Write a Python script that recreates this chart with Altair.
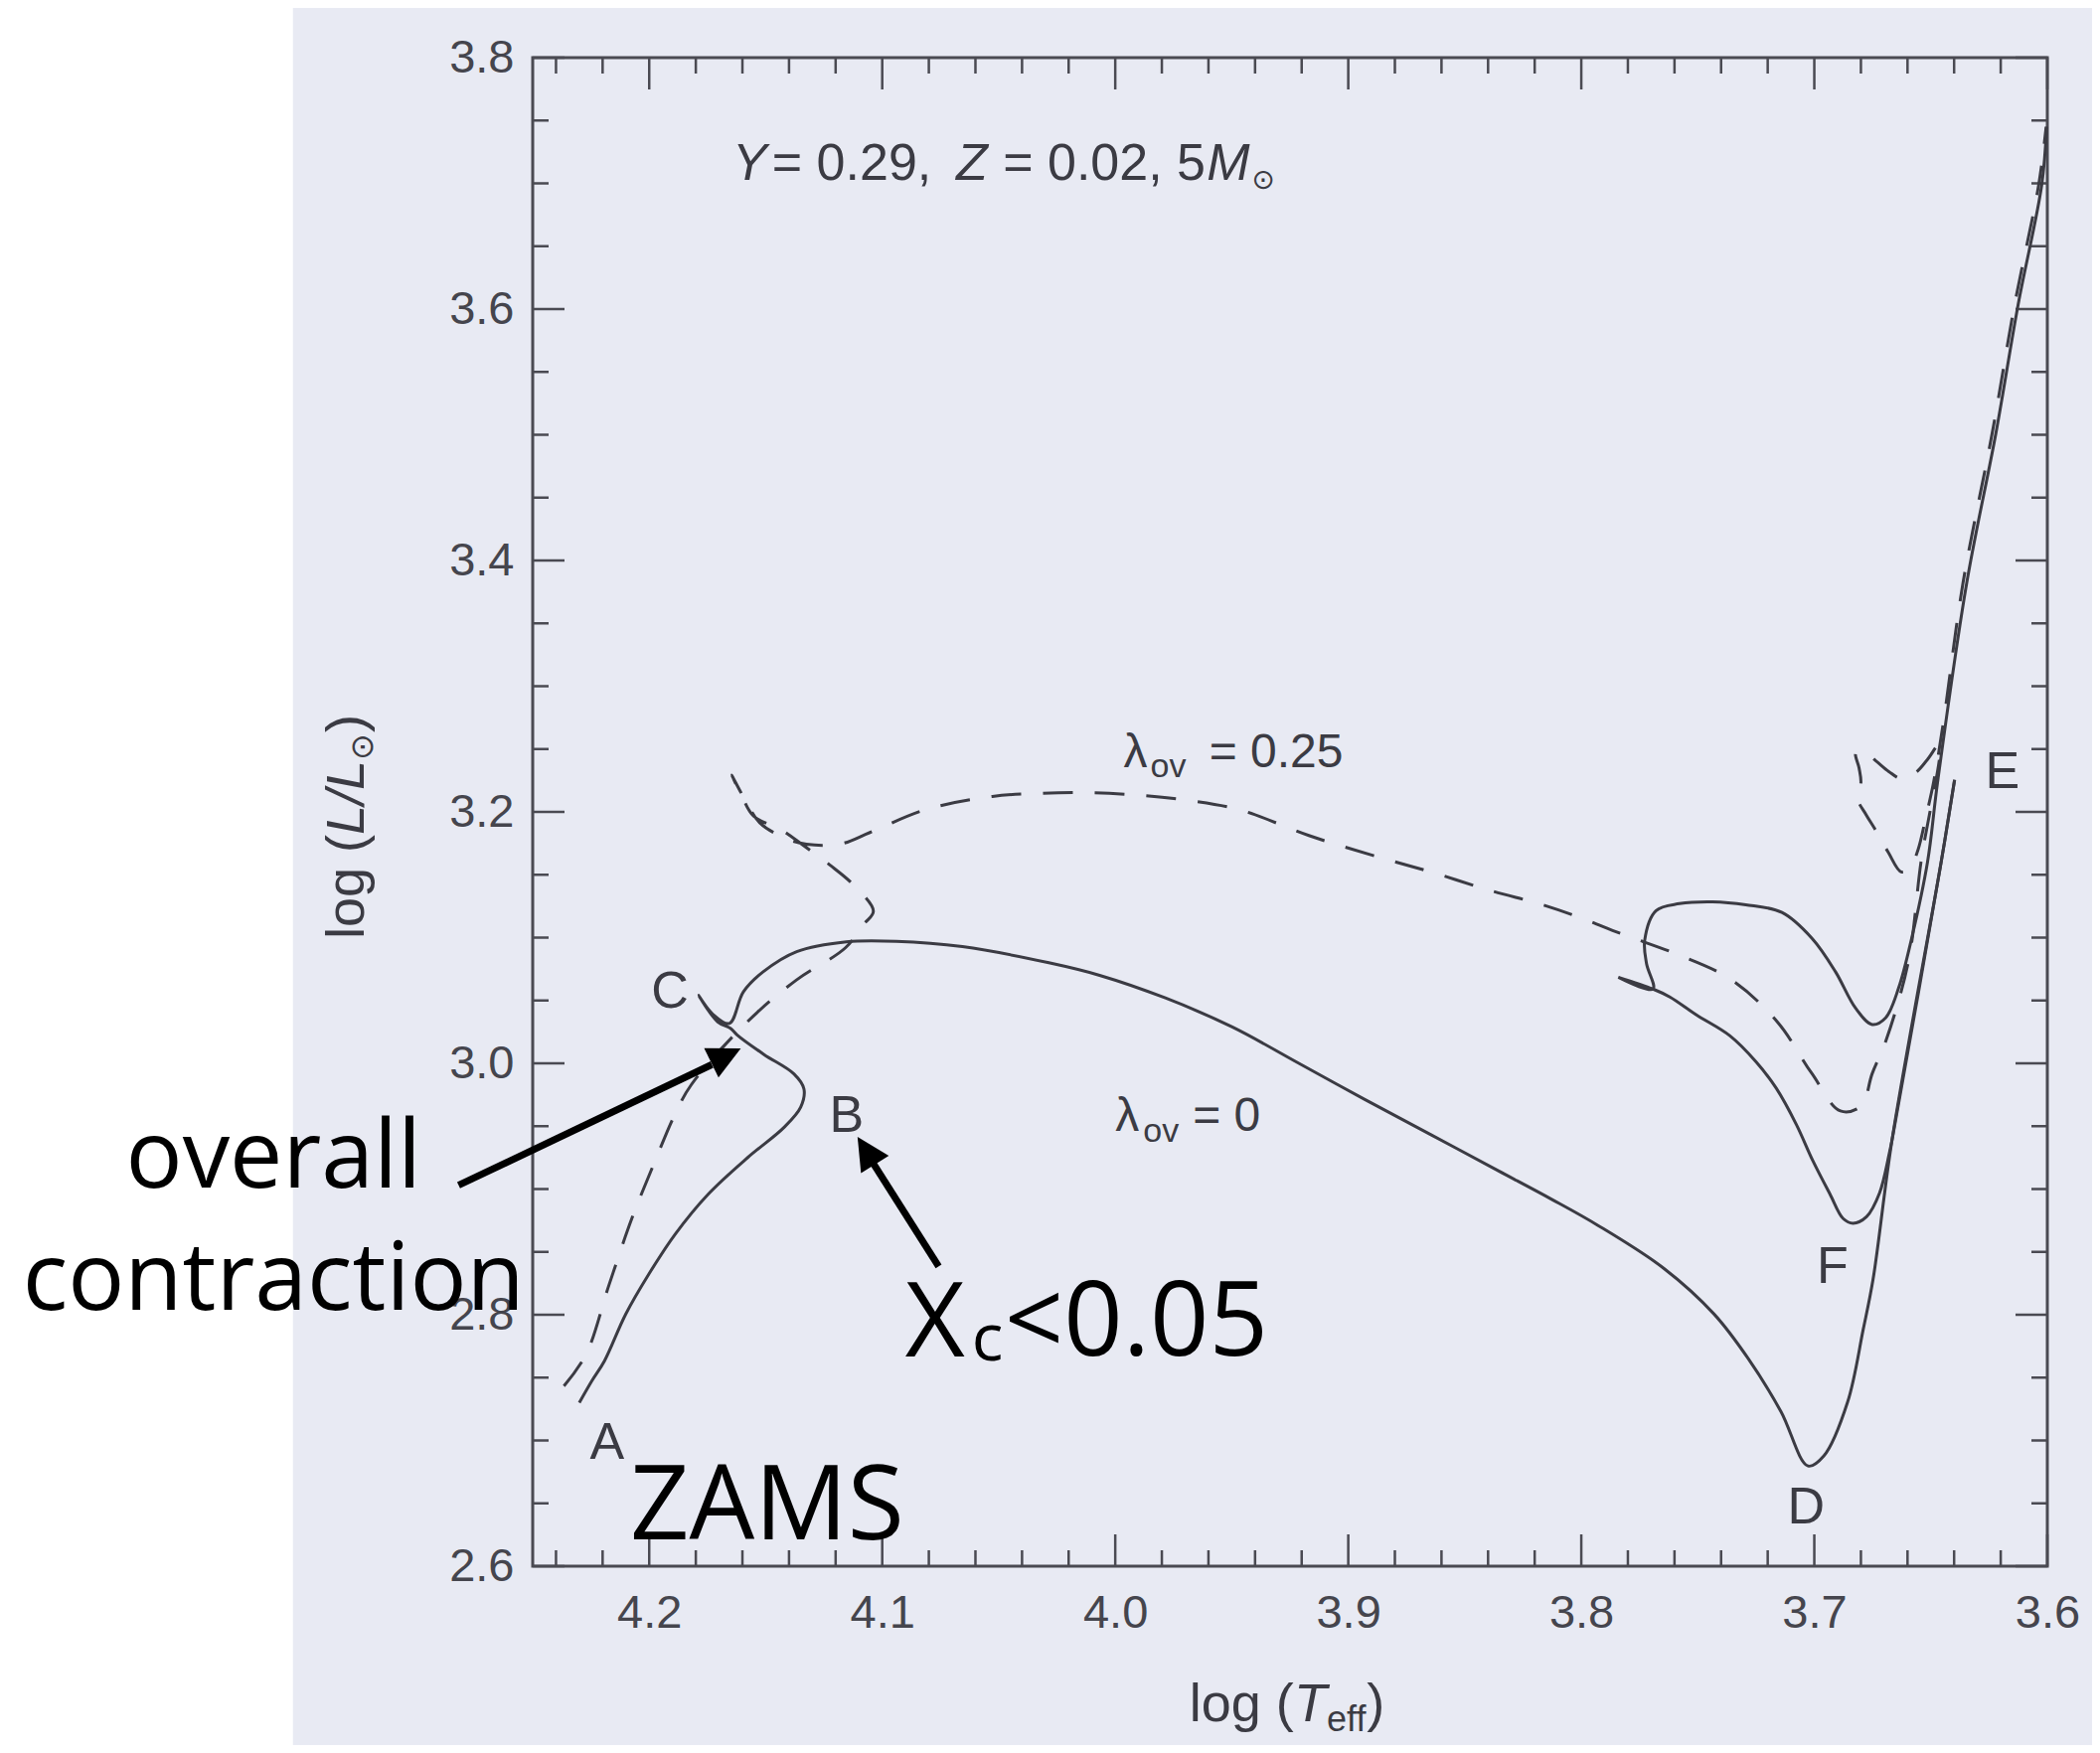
import altair as alt
import pandas as pd

# ---------------- values ----------------
# lambda_ov = 0 (solid): ZAMS (A) -> B -> C -> gap -> D -> giant branch -> E
zero_main_logT = [4.230, 4.2246, 4.2192, 4.2101, 4.2002, 4.1889, 4.1747, 4.1577, 4.1421, 4.1350,
                  4.1336, 4.1379, 4.1507, 4.1622, 4.1650, 4.1706, 4.1788, 4.1728, 4.1656, 4.1596,
                  4.1511, 4.1367, 4.1154, 4.0940, 4.0656, 4.0285, 4.0067, 3.9785, 3.9498, 3.9212,
                  3.8929, 3.8643, 3.8356, 3.8129, 3.7928, 3.7645, 3.7431, 3.7285, 3.7143, 3.7027,
                  3.6959, 3.6857, 3.6790, 3.6748, 3.6665, 3.6456, 3.6398]
zero_main_logL = [2.730, 2.7474, 2.7633, 2.8004, 2.8322, 2.8640, 2.8959, 2.9251, 2.9491, 2.9651,
                  2.9796, 2.9916, 3.0070, 3.0225, 3.0277, 3.0330, 3.0540, 3.0393, 3.0317, 3.0568,
                  3.0728, 3.0889, 3.0967, 3.0971, 3.0928, 3.0800, 3.0700, 3.0520, 3.0289, 3.0000,
                  2.9712, 2.9430, 2.9145, 2.8920, 2.8710, 2.8368, 2.8007, 2.7655, 2.7230, 2.6797,
                  2.6877, 2.7306, 2.7884, 2.8280, 2.9407, 3.1596, 3.2255]

# lambda_ov = 0 (solid): E -> F -> blue loop -> asymptotic giant branch
zero_loop_logT = [3.6398, 3.6456, 3.6664, 3.6678, 3.6720, 3.6776, 3.6834, 3.6876, 3.6933, 3.7006,
                  3.7077, 3.7163, 3.7249, 3.7363, 3.7506, 3.7620, 3.7692, 3.7841, 3.7692, 3.7720,
                  3.7728, 3.7679, 3.7579, 3.7437, 3.7294, 3.7139, 3.7009, 3.6909, 3.6823, 3.6752,
                  3.6694, 3.6638, 3.6582, 3.6514, 3.6471, 3.6346, 3.6221, 3.6125, 3.6024, 3.6003]
zero_loop_logL = [3.2255, 3.1596, 2.9414, 2.9285, 2.8969, 2.8780, 2.8728, 2.8765, 2.8961, 2.9224,
                  2.9513, 2.9801, 3.0010, 3.0220, 3.0385, 3.0528, 3.0591, 3.0685, 3.0591, 3.0793,
                  3.0977, 3.1215, 3.1270, 3.1285, 3.1261, 3.1200, 3.0992, 3.0728, 3.0439, 3.0309,
                  3.0362, 3.0600, 3.0996, 3.1603, 3.2237, 3.3820, 3.5009, 3.6038, 3.6988, 3.7450]

# lambda_ov = 0.25 (dashed)
ov_logT = [4.2366, 4.2271, 4.2172, 4.2074, 4.1976, 4.1891, 4.1820, 4.1578, 4.1368, 4.1158,
           4.1080, 4.1038, 4.1124, 4.1225, 4.1338, 4.1437, 4.1552, 4.1608, 4.1646, 4.1586,
           4.1526, 4.1423, 4.1325, 4.1180, 4.1053, 4.0812, 4.0527, 4.0313, 4.0100, 3.9887,
           3.9673, 3.9459, 3.9169, 3.8875, 3.8634, 3.8391, 3.8164, 3.8006, 3.7826, 3.7587,
           3.7356, 3.7158, 3.7012, 3.6888, 3.6798, 3.6752, 3.6693, 3.6596, 3.6542, 3.6463,
           3.6515, 3.6569, 3.6629, 3.6680, 3.6736, 3.6787, 3.6822, 3.6808, 3.6800, 3.6816,
           3.6778, 3.6739, 3.6683, 3.6627, 3.6589, 3.6555, 3.6521, 3.6488, 3.6446, 3.6362,
           3.6237, 3.6140, 3.6037, 3.6005]
ov_logL = [2.7433, 2.7685, 2.8240, 2.8768, 2.9218, 2.9589, 2.9828, 3.0332, 3.0663, 3.0919,
           3.1105, 3.1210, 3.1420, 3.1578, 3.1733, 3.1862, 3.1967, 3.2149, 3.2292, 3.2087,
           3.1914, 3.1797, 3.1743, 3.1745, 3.1836, 3.2019, 3.2123, 3.2148, 3.2152, 3.2131,
           3.2088, 3.2013, 3.1812, 3.1643, 3.1516, 3.1375, 3.1260, 3.1160, 3.1029, 3.0866,
           3.0665, 3.0328, 2.9923, 2.9621, 2.9662, 2.9916, 3.0178, 3.0812, 3.1604, 3.2538,
           3.2415, 3.2307, 3.2266, 3.2321, 3.2406, 3.2477, 3.2469, 3.2350, 3.2232, 3.2113,
           3.1979, 3.1861, 3.1680, 3.1523, 3.1556, 3.1698, 3.1960, 3.2237, 3.2713, 3.3820,
           3.5009, 3.6038, 3.6988, 3.7450]

x_major = [4.2, 4.1, 4.0, 3.9, 3.8, 3.7, 3.6]
x_minor = [4.24, 4.22, 4.18, 4.16, 4.14, 4.12, 4.08, 4.06, 4.04, 4.02, 3.98, 3.96, 3.94, 3.92,
           3.88, 3.86, 3.84, 3.82, 3.78, 3.76, 3.74, 3.72, 3.68, 3.66, 3.64, 3.62]
y_major = [2.6, 2.8, 3.0, 3.2, 3.4, 3.6, 3.8]
y_minor = [2.65, 2.7, 2.75, 2.85, 2.9, 2.95, 3.05, 3.1, 3.15, 3.25, 3.3, 3.35, 3.45, 3.5, 3.55,
           3.65, 3.7, 3.75]

# point labels on the tracks
point_text = ["A", "B", "C", "D", "E", "F"]
point_logT = [4.2181, 4.1153, 4.1911, 3.7035, 3.6193, 3.6922]
point_logL = [2.6851, 2.9453, 3.0445, 2.6338, 3.2187, 2.8256]

# header "Y = 0.29, Z = 0.02, 5M(sun)"
head_reg_text = ["= 0.29,", "= 0.02, 5"]
head_reg_logT = [4.1473, 4.0482]
head_it_text = ["Y", "Z", "M"]
head_it_logT = [4.1643, 4.0683, 3.9607]
head_logL = 3.703
sun_logT, sun_logL = 3.9415, 3.696

# lambda_ov labels
lam_text = ["\u03bb", "= 0.25", "\u03bb", "= 0"]
lam_logT = [3.9964, 3.9597, 4.0000, 3.9667]
lam_logL = [3.2355, 3.2355, 2.9466, 2.9466]
lam_sub_logT = [3.9849, 3.9880]
lam_sub_logL = [3.2273, 2.9372]

# slide annotations (black)
ann_center_text = ["overall", "contraction"]
ann_center_logT = [4.3612, 4.3612]
ann_center_logL = [2.9009, 2.8036]
ann_left_text = ["X", "<0.05", "ZAMS"]
ann_left_logT = [4.0902, 4.0475, 4.2082]
ann_left_logL = [2.7671, 2.7674, 2.6213]
ann_sub_logT, ann_sub_logL = 4.0616, 2.7636

# arrows: shaft start, shaft end (head base), head tip, direction (deg clockwise from up)
arrow_start_logT = [4.2818, 4.0758]
arrow_start_logL = [2.903, 2.8385]
arrow_base_logT = [4.1731, 4.1038]
arrow_base_logL = [2.999, 2.9203]
arrow_tip_logT = [4.1607, 4.1106]
arrow_tip_logL = [3.0118, 2.9416]
arrow_angle = [64, 328]

# axis title pieces
xt_main_text = ["log (", ")"]
xt_main_logT = [3.9682, 3.8921]
xt_T_logT = 3.9233
xt_eff_logT = 3.9092
xt_logL, xt_eff_logL = 2.4767, 2.4688
yt_logT, yt_sub_logT = 4.3225, 4.3187
yt_main_text = ["log (", ")"]
yt_main_logL = [3.0988, 3.2632]
yt_L_logL = 3.1818
yt_sun_logL = 3.2411

# ---------------- chart ----------------
W, H = 1524, 1518
INK = "#3b3b43"
FIG_FONT = "Liberation Sans"
ANN_FONT = "Open Sans"

XS = alt.Scale(domain=[3.6, 4.25], reverse=True, nice=False, zero=False)
YS = alt.Scale(domain=[2.6, 3.8], nice=False, zero=False)
XAX = alt.Axis(values=x_major, format=".1f", title=None, domain=False, ticks=False, tickSize=0,
               grid=False, labelFont=FIG_FONT, labelFontSize=47, labelColor="#45454d",
               labelPadding=24, labelOverlap=False, labelFlush=False)
YAX = alt.Axis(values=y_major, format=".1f", title=None, domain=False, ticks=False, tickSize=0,
               grid=False, labelFont=FIG_FONT, labelFontSize=47, labelColor="#45454d",
               labelPadding=19, labelOverlap=False, labelFlush=False)


def X(f):
    return alt.X(f, type="quantitative", scale=XS, axis=XAX)


def Y(f):
    return alt.Y(f, type="quantitative", scale=YS, axis=YAX)


def track(xs, ys):
    assert len(xs) == len(ys)
    return pd.DataFrame({"logT": xs, "logL": ys, "i": list(range(len(xs)))})


def texts(xs, ys, labels, **kw):
    df = pd.DataFrame({"x": xs, "y": ys, "t": labels})
    return alt.Chart(df).mark_text(**kw).encode(x=X("x"), y=Y("y"), text="t:N")


layers = []

# white page area left of the scanned figure
layers.append(
    alt.Chart(pd.DataFrame({"x0": [4.9], "x1": [4.3529], "y0": [2.3], "y1": [3.95]}))
    .mark_rect(color="white")
    .encode(x=X("x0"), x2="x1", y=Y("y0"), y2="y1")
)


# inward ticks on all four sides
def xticks(vals, length):
    df = pd.DataFrame({"v": vals})
    base = alt.Chart(df).mark_rule(color="#4a4a52", strokeWidth=2.5)
    return [base.encode(x=X("v"), y=alt.value(H), y2=alt.value(H - length)),
            base.encode(x=X("v"), y=alt.value(0), y2=alt.value(length))]


def yticks(vals, length):
    df = pd.DataFrame({"v": vals})
    base = alt.Chart(df).mark_rule(color="#4a4a52", strokeWidth=2.5)
    return [base.encode(y=Y("v"), x=alt.value(0), x2=alt.value(length)),
            base.encode(y=Y("v"), x=alt.value(W), x2=alt.value(W - length))]


layers += xticks(x_major, 32) + xticks(x_minor, 16) + yticks(y_major, 32) + yticks(y_minor, 16)

# tracks
for xs, ys in [(zero_main_logT, zero_main_logL), (zero_loop_logT, zero_loop_logL)]:
    layers.append(
        alt.Chart(track(xs, ys))
        .mark_line(color=INK, strokeWidth=3, interpolate="catmull-rom")
        .encode(x=X("logT"), y=Y("logL"), order="i:Q")
    )
layers.append(
    alt.Chart(track(ov_logT, ov_logL))
    .mark_line(color=INK, strokeWidth=3, strokeDash=[30, 22], interpolate="catmull-rom")
    .encode(x=X("logT"), y=Y("logL"), order="i:Q")
)

# figure labels
layers.append(texts(point_logT, point_logL, point_text, font=FIG_FONT, fontSize=52, color=INK,
                    align="center", baseline="alphabetic"))
layers.append(texts(head_reg_logT, [head_logL] * len(head_reg_text), head_reg_text, font=FIG_FONT,
                    fontSize=52, color=INK, align="left", baseline="alphabetic"))
layers.append(texts(head_it_logT, [head_logL] * len(head_it_text), head_it_text, font=FIG_FONT,
                    fontSize=52, fontStyle="italic", color=INK, align="left", baseline="alphabetic"))
layers.append(texts([sun_logT], [sun_logL], ["\u2299"], font="DejaVu Sans", fontSize=28, color=INK,
                    align="left", baseline="alphabetic"))
layers.append(texts(lam_logT, lam_logL, lam_text, font=FIG_FONT, fontSize=48, color=INK,
                    align="left", baseline="alphabetic"))
layers.append(texts(lam_sub_logT, lam_sub_logL, ["ov", "ov"], font=FIG_FONT, fontSize=34, color=INK,
                    align="left", baseline="alphabetic"))

# axis titles
layers.append(texts(xt_main_logT, [xt_logL] * 2, xt_main_text, font=FIG_FONT, fontSize=54,
                    color=INK, align="left", baseline="alphabetic"))
layers.append(texts([xt_T_logT], [xt_logL], ["T"], font=FIG_FONT, fontSize=54, fontStyle="italic",
                    color=INK, align="left", baseline="alphabetic"))
layers.append(texts([xt_eff_logT], [xt_eff_logL], ["eff"], font=FIG_FONT, fontSize=36,
                    color=INK, align="left", baseline="alphabetic"))
layers.append(texts([yt_logT] * 2, yt_main_logL, yt_main_text, font=FIG_FONT, fontSize=54,
                    color=INK, align="left", baseline="alphabetic", angle=270))
layers.append(texts([yt_logT], [yt_L_logL], ["L/L"], font=FIG_FONT, fontSize=54, fontStyle="italic",
                    color=INK, align="left", baseline="alphabetic", angle=270))
layers.append(texts([yt_sub_logT], [yt_sun_logL], ["\u2299"], font="DejaVu Sans", fontSize=32,
                    color=INK, align="left", baseline="alphabetic", angle=270))

# arrows
arrow_df = pd.DataFrame({
    "x0": arrow_start_logT, "y0": arrow_start_logL,
    "x1": arrow_base_logT, "y1": arrow_base_logL,
    "xt": arrow_tip_logT, "yt": arrow_tip_logL, "a": arrow_angle,
})
layers.append(
    alt.Chart(arrow_df).mark_rule(color="black", strokeWidth=7, strokeCap="butt")
    .encode(x=X("x0"), y=Y("y0"), x2="x1", y2="y1")
)
layers.append(
    alt.Chart(arrow_df)
    .mark_point(shape="M0,0 L0.5,1 L-0.5,1 Z", filled=True, size=4356, color="black", opacity=1)
    .encode(x=X("xt"), y=Y("yt"), angle=alt.Angle("a:Q", scale=None))
)

# slide annotations
layers.append(texts(ann_center_logT, ann_center_logL, ann_center_text, font=ANN_FONT, fontSize=95,
                    color="black", align="center", baseline="alphabetic"))
layers.append(texts(ann_left_logT, ann_left_logL, ann_left_text, font=ANN_FONT, fontSize=104,
                    color="black", align="left", baseline="alphabetic"))
layers.append(texts([ann_sub_logT], [ann_sub_logL], ["c"], font=ANN_FONT, fontSize=66,
                    color="black", align="left", baseline="alphabetic"))

chart = (
    alt.layer(*layers)
    .properties(
        width=W, height=H,
        autosize=alt.AutoSizeParams(type="none"),
        padding={"left": 528, "top": 50, "right": 45, "bottom": 180},
        background="#E8EAF3",
    )
    .configure_view(stroke="#4a4a52", strokeWidth=3)
)

chart.save("out.html", embed_options={"renderer": "svg", "actions": False})
